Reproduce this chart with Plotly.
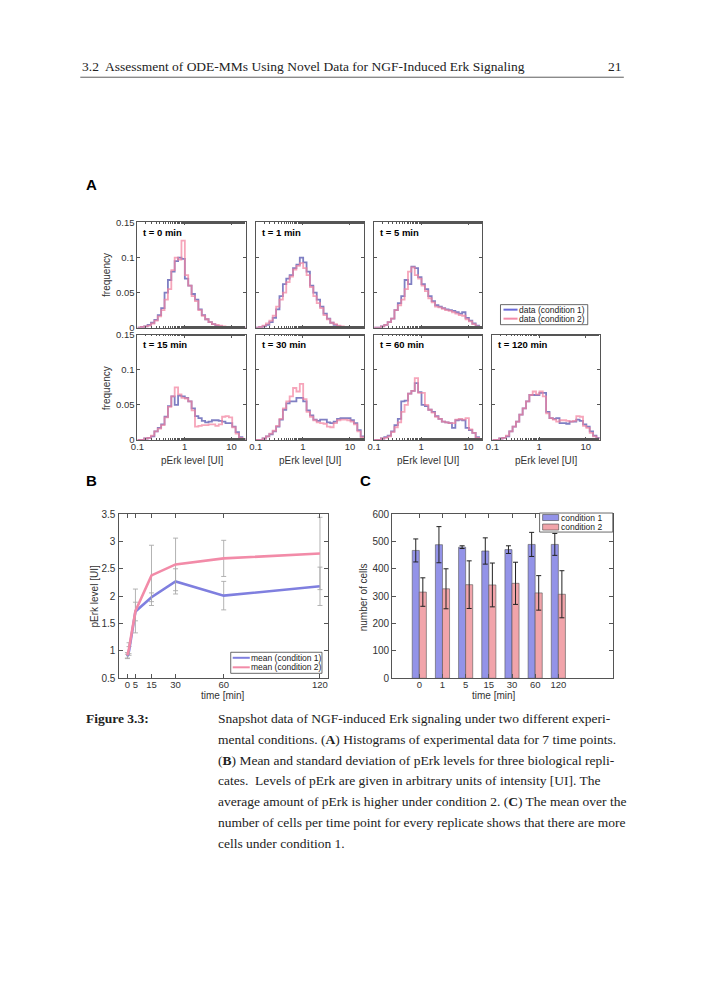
import numpy as np
import plotly.graph_objects as go

# figure sized so the page (with the browser's 8px body margin) fits the 704x1000 window
OFF = 8
W, H = 704 - 2 * OFF, 1000 - 2 * OFF
# small empirical correction of the photographed page placement
SC, SH = 0.987, 7.0

# ---------------- data ----------------
# Panel A: histogram frequencies on 32 log-spaced bins between 0.1 and 20
hist_titles = ["t = 0 min", "t = 1 min", "t = 5 min", "t = 15 min", "t = 30 min", "t = 60 min", "t = 120 min"]
t0_c1 = [0, 0.001, 0.002, 0.004, 0.007, 0.011, 0.018, 0.028, 0.05, 0.068, 0.08, 0.095, 0.1, 0.098, 0.07, 0.06, 0.048, 0.04, 0.026, 0.018, 0.012, 0.008, 0.005, 0.003, 0.002, 0.001, 0, 0, 0, 0, 0, 0]
t0_c2 = [0, 0.001, 0.002, 0.003, 0.006, 0.01, 0.016, 0.025, 0.04, 0.055, 0.082, 0.1, 0.097, 0.124, 0.075, 0.06, 0.045, 0.038, 0.025, 0.017, 0.012, 0.008, 0.005, 0.004, 0.003, 0.002, 0.001, 0, 0, 0, 0, 0]
t1_c1 = [0, 0.001, 0.002, 0.004, 0.008, 0.014, 0.026, 0.045, 0.062, 0.07, 0.075, 0.085, 0.09, 0.1, 0.093, 0.08, 0.06, 0.05, 0.04, 0.03, 0.02, 0.013, 0.007, 0.004, 0.002, 0.001, 0, 0, 0, 0, 0, 0]
t1_c2 = [0, 0.001, 0.003, 0.006, 0.01, 0.017, 0.03, 0.04, 0.05, 0.065, 0.073, 0.083, 0.088, 0.092, 0.085, 0.075, 0.058, 0.045, 0.035, 0.028, 0.018, 0.012, 0.007, 0.005, 0.003, 0.002, 0.001, 0, 0, 0, 0, 0]
t5_c1 = [0, 0, 0.002, 0.004, 0.008, 0.013, 0.025, 0.035, 0.045, 0.068, 0.062, 0.087, 0.085, 0.072, 0.062, 0.055, 0.045, 0.038, 0.032, 0.03, 0.028, 0.026, 0.025, 0.024, 0.022, 0.02, 0.022, 0.014, 0.01, 0.006, 0.003, 0.001]
t5_c2 = [0, 0, 0.002, 0.004, 0.008, 0.013, 0.025, 0.032, 0.04, 0.055, 0.08, 0.086, 0.075, 0.07, 0.06, 0.052, 0.042, 0.036, 0.03, 0.029, 0.027, 0.025, 0.024, 0.022, 0.02, 0.018, 0.017, 0.012, 0.009, 0.005, 0.002, 0.001]
t15_c1 = [0, 0, 0.002, 0.003, 0.005, 0.012, 0.017, 0.022, 0.033, 0.048, 0.062, 0.05, 0.063, 0.062, 0.06, 0.055, 0.045, 0.034, 0.031, 0.027, 0.025, 0.026, 0.028, 0.028, 0.027, 0.026, 0.024, 0.024, 0.019, 0.011, 0.004, 0.001]
t15_c2 = [0, 0, 0.002, 0.003, 0.006, 0.012, 0.016, 0.021, 0.032, 0.047, 0.062, 0.075, 0.065, 0.06, 0.059, 0.055, 0.042, 0.019, 0.02, 0.021, 0.021, 0.022, 0.022, 0.02, 0.022, 0.033, 0.034, 0.032, 0.018, 0.009, 0.003, 0.001]
t30_c1 = [0, 0, 0.002, 0.005, 0.008, 0.012, 0.019, 0.029, 0.043, 0.052, 0.055, 0.055, 0.06, 0.06, 0.055, 0.042, 0.035, 0.029, 0.027, 0.029, 0.029, 0.025, 0.024, 0.026, 0.03, 0.031, 0.031, 0.031, 0.028, 0.024, 0.014, 0.005]
t30_c2 = [0, 0, 0.002, 0.005, 0.009, 0.013, 0.02, 0.03, 0.045, 0.055, 0.062, 0.074, 0.069, 0.08, 0.058, 0.04, 0.033, 0.028, 0.025, 0.024, 0.023, 0.019, 0.018, 0.024, 0.028, 0.029, 0.029, 0.028, 0.026, 0.022, 0.012, 0.004]
t60_c1 = [0, 0, 0.002, 0.004, 0.006, 0.012, 0.021, 0.03, 0.055, 0.056, 0.066, 0.07, 0.081, 0.068, 0.05, 0.048, 0.043, 0.04, 0.034, 0.03, 0.026, 0.025, 0.024, 0.017, 0.028, 0.029, 0.028, 0.017, 0.014, 0.01, 0.004, 0.001]
t60_c2 = [0, 0, 0.002, 0.003, 0.005, 0.011, 0.018, 0.025, 0.04, 0.05, 0.066, 0.07, 0.088, 0.067, 0.067, 0.05, 0.043, 0.039, 0.033, 0.03, 0.026, 0.025, 0.024, 0.024, 0.029, 0.03, 0.029, 0.031, 0.015, 0.01, 0.003, 0.001]
t120_c1 = [0, 0, 0.002, 0.003, 0.005, 0.012, 0.019, 0.026, 0.036, 0.045, 0.055, 0.064, 0.064, 0.064, 0.067, 0.067, 0.04, 0.031, 0.03, 0.031, 0.024, 0.024, 0.023, 0.026, 0.026, 0.029, 0.027, 0.022, 0.019, 0.012, 0.006, 0.003]
t120_c2 = [0, 0, 0.002, 0.003, 0.006, 0.012, 0.019, 0.026, 0.036, 0.045, 0.055, 0.064, 0.069, 0.065, 0.069, 0.062, 0.038, 0.031, 0.029, 0.026, 0.028, 0.028, 0.027, 0.026, 0.027, 0.034, 0.033, 0.02, 0.017, 0.01, 0.005, 0.002]
hist_c1 = [t0_c1, t1_c1, t5_c1, t15_c1, t30_c1, t60_c1, t120_c1]
hist_c2 = [t0_c2, t1_c2, t5_c2, t15_c2, t30_c2, t60_c2, t120_c2]

# Panel B: mean and std of pErk
times = [0, 1, 5, 15, 30, 60, 120]
mean_c1 = [0.90, 1.00, 1.72, 1.98, 2.27, 2.01, 2.18]
sd_c1 = [0.04, 0.08, 0.17, 0.08, 0.23, 0.26, 0.35]
mean_c2 = [0.92, 1.05, 1.73, 2.38, 2.58, 2.69, 2.78]
sd_c2 = [0.05, 0.10, 0.40, 0.55, 0.48, 0.33, 0.66]
b_ticks = [0, 5, 15, 30, 60, 120]

# Panel C: number of cells
time_labels = ["0", "1", "5", "15", "30", "60", "120"]
cells_c1 = [467, 488, 479, 465, 470, 489, 489]
cells_c1_sd = [42, 66, 5, 48, 14, 44, 40]
cells_c2 = [315, 327, 342, 341, 347, 312, 307]
cells_c2_sd = [52, 73, 87, 80, 77, 63, 86]

# ---------------- style ----------------
BLUE = "rgba(105,105,185,0.85)"
PINK = "rgba(242,130,160,0.72)"
BLUE_L = "#7f7fdf"
PINK_L = "#f28ba8"
BAR_BLUE = "#9393e8"
BAR_PINK = "#f1a4aa"
AXC = "#555555"
SANS = "Liberation Sans, Arial, sans-serif"
SERIF = "Liberation Serif, DejaVu Serif, serif"


def px(x):
    return ((x - SH) / SC - OFF) / W


def py(y):
    return 1 - ((y - SH) / SC - OFF) / H


fig = go.Figure()
layout = dict(width=W, height=H, margin=dict(l=0, r=0, t=0, b=0),
              paper_bgcolor="white", plot_bgcolor="white", showlegend=False,
              barmode="group", bargap=0.39, bargroupgap=0.0)

edges = np.logspace(-1, np.log10(20), len(t0_c1) + 1)

col_x = [(137, 245), (255, 363), (373, 481), (491, 598)]
rows_y = [(223, 328), (335, 440)]
positions = [(0, 0), (0, 1), (0, 2), (1, 0), (1, 1), (1, 2), (1, 3)]

annotations = []
shapes = []


def label(x, y, text, size=10, angle=0, color="#333", xanchor="center"):
    annotations.append(dict(x=px(x), y=py(y), xref="paper", yref="paper", text=text,
                            textangle=angle, showarrow=False, xanchor=xanchor,
                            yanchor="middle", font=dict(family=SANS, size=size, color=color)))


for k, (r, c) in enumerate(positions):
    n = k + 1
    xa = "x" if n == 1 else f"x{n}"
    ya = "y" if n == 1 else f"y{n}"
    x0, x1 = col_x[c]
    y0, y1 = rows_y[r]
    bottom = (r == 1)
    layout["xaxis" if n == 1 else f"xaxis{n}"] = dict(
        domain=[px(x0), px(x1)], anchor=ya, type="log", range=[-1, np.log10(20)],
        tickvals=[0.1, 1, 10], ticktext=["0.1", "1", "10"], showticklabels=bottom,
        ticks="inside", ticklen=3, tickcolor=AXC, showline=True, linecolor=AXC, linewidth=1,
        mirror="ticks", showgrid=False, zeroline=False, tickangle=0, ticklabelstandoff=-2,
        minor=dict(ticks="inside", ticklen=1.5, tickcolor=AXC, showgrid=False),
        tickfont=dict(family=SANS, size=9.5, color="#333"))
    layout["yaxis" if n == 1 else f"yaxis{n}"] = dict(
        domain=[py(y1), py(y0)], anchor=xa, range=[0, 0.15],
        tickvals=[0, 0.05, 0.1, 0.15], ticktext=["0", "0.05", "0.1", "0.15"],
        showticklabels=(c == 0), ticks="inside", ticklen=3, tickcolor=AXC,
        showline=True, linecolor=AXC, linewidth=1, mirror="ticks", showgrid=False,
        zeroline=False, tickfont=dict(family=SANS, size=9.5, color="#333"))
    for vals, col in ((hist_c1[k], BLUE), (hist_c2[k], PINK)):
        fig.add_trace(go.Scatter(x=edges, y=list(vals) + [vals[-1]], mode="lines",
                                 line=dict(color=col, width=1.8, shape="hv"),
                                 xaxis=xa, yaxis=ya, hoverinfo="skip"))
    label(x0 + 4, y0 + 10, f"<b>{hist_titles[k]}</b>", size=9.5, color="black", xanchor="left")
    if bottom:
        label((x0 + x1) / 2, 461, "pErk level [UI]")

for yc in (275, 388):
    label(106, yc, "frequency", angle=-90)

# ---- Panel B ----
layout["xaxis8"] = dict(domain=[px(119), px(327)], anchor="y8", range=[-5, 125],
                        tickvals=b_ticks, ticks="inside", ticklen=4, tickangle=0,
                        ticklabelstandoff=-3,
                        tickcolor=AXC, showline=True, linecolor=AXC, mirror="ticks",
                        showgrid=False, zeroline=False,
                        tickfont=dict(family=SANS, size=9.5, color="#333"))
layout["yaxis8"] = dict(domain=[py(678), py(514)], anchor="x8", range=[0.5, 3.5], dtick=0.5,
                        ticks="inside", ticklen=4, tickcolor=AXC, showline=True,
                        ticklabelstandoff=1,
                        linecolor=AXC, mirror="ticks", showgrid=False, zeroline=False,
                        tickfont=dict(family=SANS, size=10, color="#333"))
for m, s, col in ((mean_c1, sd_c1, BLUE_L), (mean_c2, sd_c2, PINK_L)):
    fig.add_trace(go.Scatter(x=times, y=m, mode="lines", xaxis="x8", yaxis="y8",
                             line=dict(color=col, width=2.6),
                             error_y=dict(type="data", array=s, color="#aaaaaa",
                                          thickness=0.9, width=2.5)))

label(94, 596, "pErk level [UI]", angle=-90)
label(222, 695, "time [min]")

# ---- Panel C ----
xc = list(range(len(time_labels)))
layout["xaxis9"] = dict(domain=[px(391), px(611)], anchor="y9", range=[-1.17, 8.35],
                        tickvals=xc, ticktext=time_labels, ticks="inside", ticklen=4,
                        tickangle=0, ticklabelstandoff=-3, tickcolor=AXC, showline=True,
                        linecolor=AXC, mirror="ticks", showgrid=False, zeroline=False,
                        tickfont=dict(family=SANS, size=9.5, color="#333"))
layout["yaxis9"] = dict(domain=[py(678), py(514)], anchor="x9", range=[0, 600], dtick=100,
                        ticks="inside", ticklen=4, tickcolor=AXC, showline=True,
                        linecolor=AXC, mirror="ticks", showgrid=False, zeroline=False,
                        tickfont=dict(family=SANS, size=10, color="#333"))
for v, s, col in ((cells_c1, cells_c1_sd, BAR_BLUE), (cells_c2, cells_c2_sd, BAR_PINK)):
    fig.add_trace(go.Bar(x=xc, y=v, xaxis="x9", yaxis="y9",
                         marker=dict(color=col, line=dict(color="#555", width=0.6)),
                         error_y=dict(type="data", array=s, color="#222",
                                      thickness=1, width=2.5)))

label(362, 597, "number of cells", angle=-90)
label(493, 695, "time [min]")

# ---- legends (drawn manually) ----
def legend_box(x0, y0, x1, y1):
    shapes.append(dict(type="rect", xref="paper", yref="paper", x0=px(x0), x1=px(x1),
                       y0=py(y1), y1=py(y0), line=dict(color="#444", width=0.8),
                       fillcolor="white"))


def legend_line(x0, x1, y, col, text, tx):
    shapes.append(dict(type="line", xref="paper", yref="paper", x0=px(x0), x1=px(x1),
                       y0=py(y), y1=py(y), line=dict(color=col, width=2)))
    label(tx, y, text, size=8.5, color="#222", xanchor="left")


legend_box(499, 305, 586, 325)
legend_line(502, 516, 310, "#6a6ad8", "data (condition 1)", 515)
legend_line(502, 516, 319, "#f28ba8", "data (condition 2)", 515)

legend_box(230, 652, 321, 673)
legend_line(232, 249, 657.5, BLUE_L, "mean (condition 1)", 248)
legend_line(232, 249, 667, PINK_L, "mean (condition 2)", 248)

legend_box(538, 513, 611, 532)
for yy, col, txt in ((517.5, BAR_BLUE, "condition 1"), (527, BAR_PINK, "condition 2")):
    shapes.append(dict(type="rect", xref="paper", yref="paper", x0=px(541), x1=px(557),
                       y0=py(yy + 3), y1=py(yy - 3), fillcolor=col,
                       line=dict(color="#444", width=0.6)))
    label(557, yy, txt, size=8.5, color="#222", xanchor="left")

# ---- panel letters ----
for letter, lx, ly in (("A", 84, 185), ("B", 84, 481), ("C", 357, 481)):
    label(lx, ly, f"<b>{letter}</b>", size=15, color="black", xanchor="left")

# ---- page header ----
annotations.append(dict(x=px(80), y=py(67), xref="paper", yref="paper",
                        text="3.2  Assessment of ODE-MMs Using Novel Data for NGF-Induced Erk Signaling",
                        showarrow=False, xanchor="left", yanchor="middle",
                        font=dict(family=SERIF, size=13.5, color="#222")))
annotations.append(dict(x=px(622), y=py(67), xref="paper", yref="paper", text="21",
                        showarrow=False, xanchor="right", yanchor="middle",
                        font=dict(family=SERIF, size=13.5, color="#222")))
shapes.append(dict(type="line", xref="paper", yref="paper", x0=px(80), x1=px(622),
                   y0=py(78), y1=py(78), line=dict(color="#333", width=0.8)))

# ---- caption ----
cap_lines = [
    "Snapshot data of NGF-induced Erk signaling under two different experi-",
    "mental conditions. (<b>A</b>) Histograms of experimental data for 7 time points.",
    "(<b>B</b>) Mean and standard deviation of pErk levels for three biological repli-",
    "cates.  Levels of pErk are given in arbitrary units of intensity [UI]. The",
    "average amount of pErk is higher under condition 2. (<b>C</b>) The mean over the",
    "number of cells per time point for every replicate shows that there are more",
    "cells under condition 1.",
]
annotations.append(dict(x=px(84), y=py(718), xref="paper", yref="paper",
                        text="<b>Figure 3.3:</b>", showarrow=False, xanchor="left",
                        yanchor="middle", font=dict(family=SERIF, size=13.5, color="#222")))
for i, line in enumerate(cap_lines):
    annotations.append(dict(x=px(215), y=py(718 + 20.8 * i), xref="paper", yref="paper",
                            text=line, showarrow=False, xanchor="left", yanchor="middle",
                            font=dict(family=SERIF, size=13.5, color="#222")))

layout["annotations"] = annotations
layout["shapes"] = shapes
fig.update_layout(**layout)
fig.write_html("out.html")
